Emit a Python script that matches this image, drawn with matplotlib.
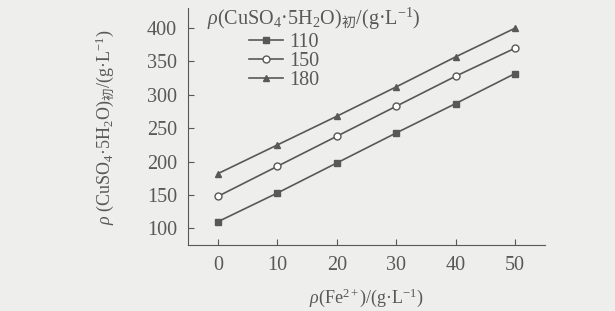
import matplotlib
matplotlib.use("Agg")
from matplotlib import pyplot as plt

# data
fe_conc = [0, 10, 20, 30, 40, 50]
series_labels = ["110", "150", "180"]
cu_110 = [110, 153, 198, 243, 287, 332]
cu_150 = [148, 193, 238, 283, 328, 370]
cu_180 = [182, 225, 268, 312, 357, 400]

x_ticks = [0, 10, 20, 30, 40, 50]
y_ticks = [100, 150, 200, 250, 300, 350, 400]

plt.rcParams['font.family'] = ['Liberation Serif', 'Noto Sans CJK SC', 'DejaVu Sans']
plt.rcParams['mathtext.fontset'] = 'custom'
plt.rcParams['mathtext.rm'] = 'Liberation Serif'
plt.rcParams['mathtext.it'] = 'Liberation Serif:italic'
plt.rcParams['mathtext.sf'] = 'Noto Sans CJK SC'

ink = '#585858'
bg = '#eeeeec'

conc_label = r'$\rho$(CuSO$_4$·5H$_2$O)$_{\mathsf{初}}$/(g·L$^{-1}$)'

fig = plt.figure(figsize=(6.15, 3.11), dpi=100, facecolor=bg)
ax = fig.add_axes([0.306, 0.212, 0.580, 0.762])
ax.set_facecolor(bg)

ax.plot(fe_conc, cu_110, '-s', color=ink, lw=1.2, ms=4.5, mfc=ink, label=series_labels[0])
ax.plot(fe_conc, cu_150, '-o', color=ink, lw=1.2, ms=5, mfc='white', label=series_labels[1])
ax.plot(fe_conc, cu_180, '-^', color=ink, lw=1.2, ms=5, mfc=ink, label=series_labels[2])

ax.set_xlim(-5, 55)
ax.set_ylim(75, 430)
ax.set_xticks(x_ticks)
ax.set_yticks(y_ticks)
ax.tick_params(direction='in', length=4, colors=ink, labelsize=14.5, labelcolor=ink, pad=8)
for side in ['top', 'right']:
    ax.spines[side].set_visible(False)
for side in ['left', 'bottom']:
    ax.spines[side].set_color(ink)

ax.set_xlabel(r'$\rho$(Fe$^{2+}$)/(g·L$^{-1}$)', color=ink, fontsize=13, labelpad=8)
ax.set_ylabel(r'$\rho$ (CuSO$_4$·5H$_2$O)$_{\mathsf{初}}$/(g·L$^{-1}$)', color=ink,
              fontsize=13, labelpad=22)

# legend title and entries
fig.text(207 / 615, 1 - 19 / 311, conc_label, color=ink,
         fontsize=14.5, ha='left', va='center')
leg = fig.legend(loc='upper left', bbox_to_anchor=(249 / 615, 1 - 33 / 311),
                 frameon=False, fontsize=14.5, handlelength=1.7,
                 labelspacing=0.0, borderaxespad=0, borderpad=0, handletextpad=0.3)
for t in leg.get_texts():
    t.set_color(ink)

fig.savefig('out.png', dpi=100, facecolor=bg)
